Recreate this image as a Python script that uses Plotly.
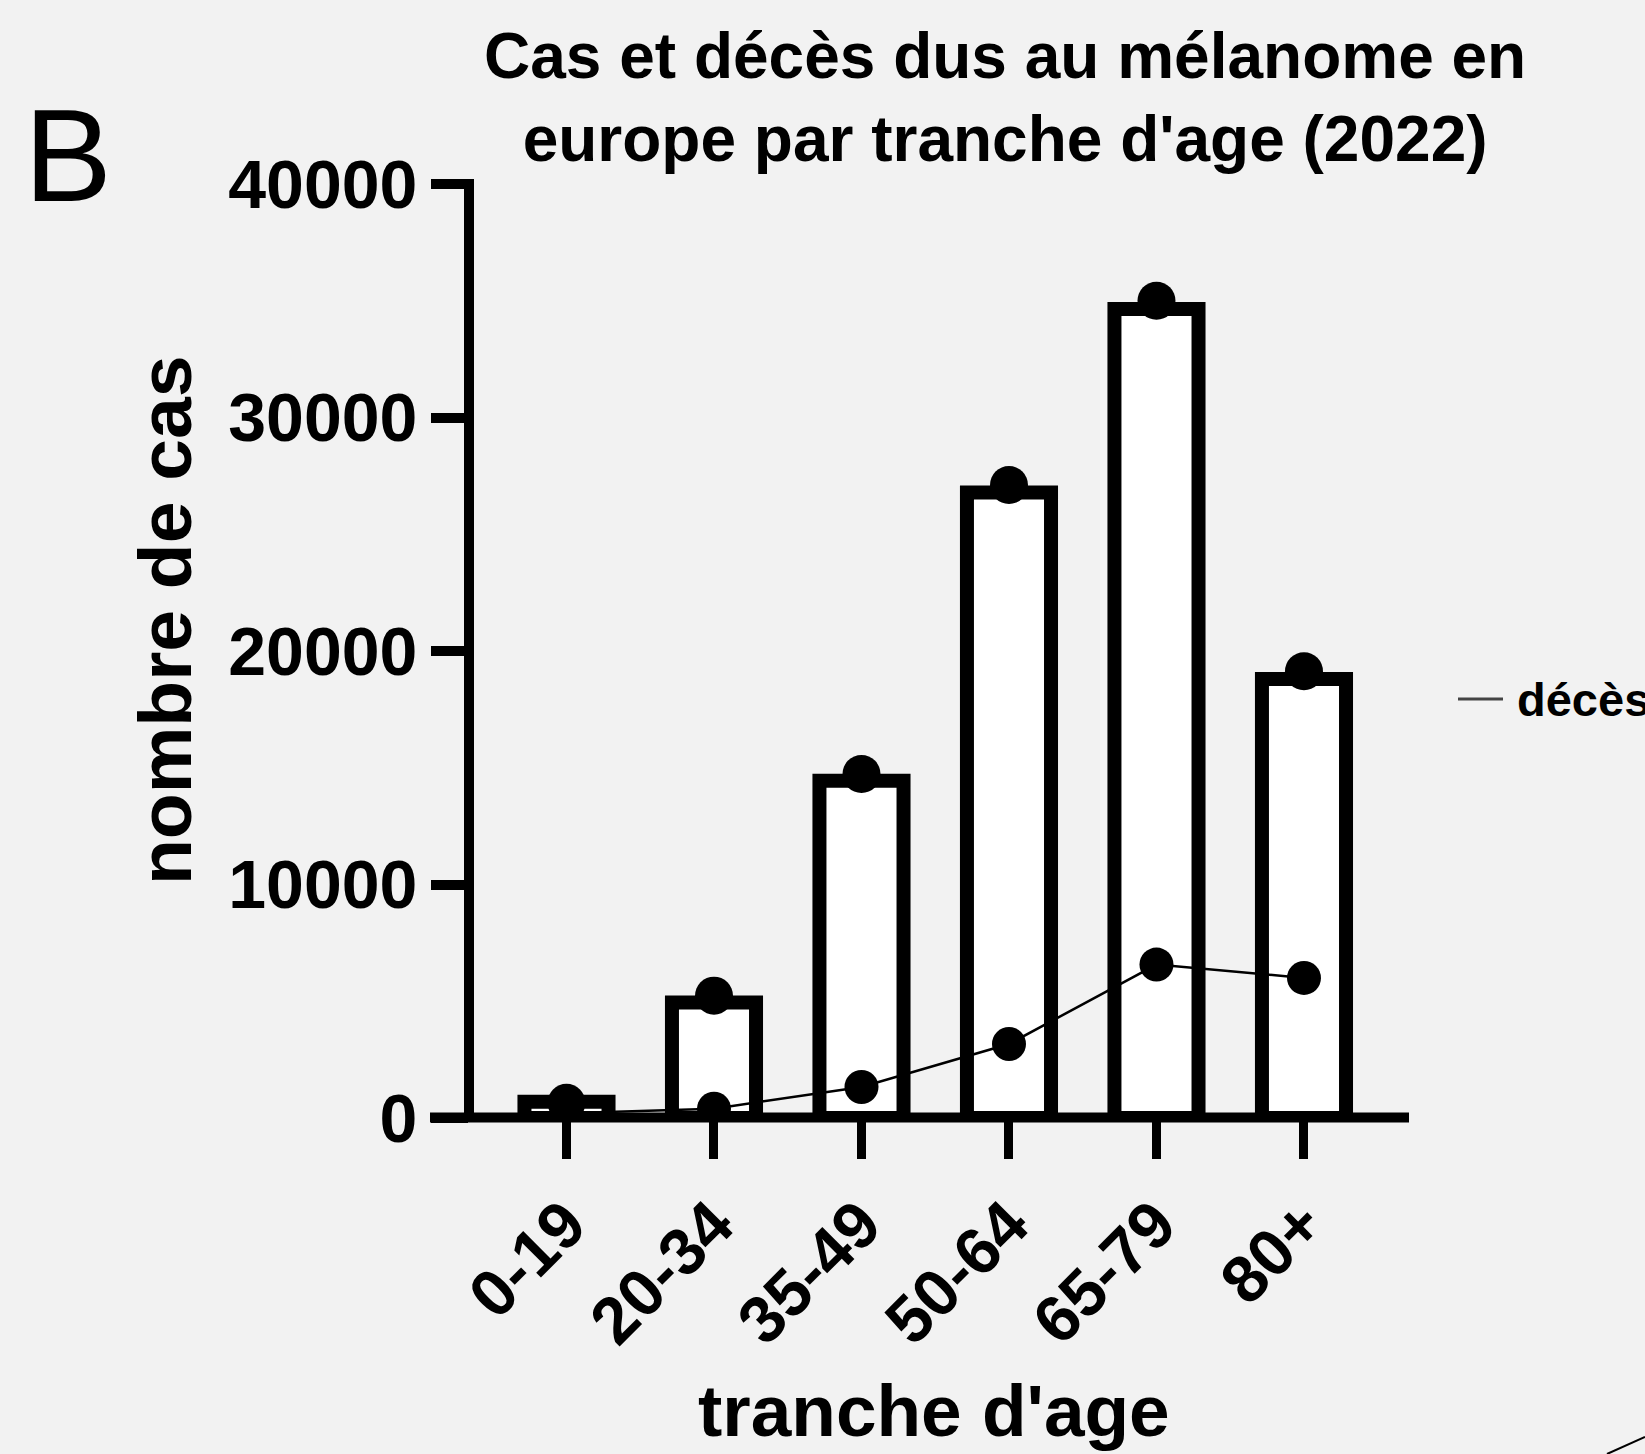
import plotly.graph_objects as go

# ---- data ----
categories = ["0-19", "20-34", "35-49", "50-64", "65-79", "80+"]
bar_cases = [700, 4950, 14440, 26790, 34650, 18800]
dot_cases = [650, 5240, 14730, 27110, 35000, 19130]
deaths = [200, 400, 1330, 3170, 6570, 6000]
y_ticks = [0, 10000, 20000, 30000, 40000]
y_tick_labels = ["0", "10000", "20000", "30000", "40000"]

W, H = 1645, 1454
L, R, T, B = 469, 1409, 184, 1118  # plot area in pixels
def px(x):
    return (x - L) / (R - L)
def py(y):
    return (B - y) / (B - T)

FONT = "Liberation Sans"
BG = "#f2f2f2"

fig = go.Figure()
fig.add_trace(go.Bar(
    x=categories, y=bar_cases, width=0.57,
    marker=dict(color="white", line=dict(color="black", width=14)),
    showlegend=False, hoverinfo="skip",
))
fig.add_trace(go.Scatter(
    x=categories, y=dot_cases, mode="markers",
    marker=dict(color="black", size=38),
    showlegend=False, name="cas",
))
fig.add_trace(go.Scatter(
    x=categories, y=deaths, mode="lines+markers",
    line=dict(color="black", width=2.5),
    marker=dict(color="black", size=34),
    showlegend=False, name="décès",
))

fig.update_layout(
    width=W, height=H,
    margin=dict(l=L, r=W - R, t=T, b=H - B, pad=0),
    paper_bgcolor=BG, plot_bgcolor=BG,
    font=dict(family=FONT, color="black"),
    xaxis=dict(
        type="category", range=[-0.661, 5.712],
        showgrid=False, zeroline=False, showline=False,
        ticks="outside", ticklen=40, tickwidth=9, tickcolor="black",
        tickangle=-45,
        tickfont=dict(family=FONT, size=66, color="black", weight="bold"),
    ),
    yaxis=dict(
        range=[0, 40000], tickvals=y_ticks, ticktext=y_tick_labels,
        showgrid=False, zeroline=False, showline=False,
        ticks="outside", ticklen=37, tickwidth=10, tickcolor="black",
        tickfont=dict(family=FONT, size=68, color="black", weight="bold"),
    ),
    shapes=[
        # y axis line
        dict(type="line", xref="paper", yref="paper", x0=0, x1=0, y0=py(1122), y1=py(179),
             line=dict(color="black", width=10), layer="above"),
        # x axis line
        dict(type="line", xref="paper", yref="paper", x0=px(430), x1=1.0, y0=py(1117.5), y1=py(1117.5),
             line=dict(color="black", width=10), layer="above"),
        # legend sample line
        dict(type="line", xref="paper", yref="paper",
             x0=px(1458), x1=px(1503), y0=py(699), y1=py(699),
             line=dict(color="#444444", width=3)),
        # stray curve in the corner of the reference
        dict(type="path", xref="paper", yref="paper",
             path=f"M {px(1607)},{py(1454)} Q {px(1625)},{py(1446)} {px(1645)},{py(1437)}",
             line=dict(color="black", width=2)),
    ],
    annotations=[
        dict(text="Cas et décès dus au mélanome en<br>europe par tranche d'age (2022)",
             xref="paper", yref="paper", x=px(1005), y=py(98),
             xanchor="center", yanchor="middle", showarrow=False,
             font=dict(family=FONT, size=64, color="black", weight="bold")),
        dict(text="B", xref="paper", yref="paper", x=px(68), y=py(155),
             xanchor="center", yanchor="middle", showarrow=False,
             font=dict(family=FONT, size=132, color="black")),
        dict(text="nombre de cas", xref="paper", yref="paper", x=px(165), y=py(621),
             xanchor="center", yanchor="middle", textangle=-90, showarrow=False,
             font=dict(family=FONT, size=75, color="black", weight="bold")),
        dict(text="tranche d'age", xref="paper", yref="paper", x=px(934), y=py(1410),
             xanchor="center", yanchor="middle", showarrow=False,
             font=dict(family=FONT, size=73, color="black", weight="bold")),
        dict(text="décès", xref="paper", yref="paper", x=px(1515), y=py(699),
             xanchor="left", yanchor="middle", showarrow=False,
             font=dict(family=FONT, size=47, color="black", weight="bold")),
    ],
)

fig.write_html(
    "out.html",
    config={"displayModeBar": False},
    post_script="document.body.style.margin='0';document.body.style.background='#f2f2f2';document.body.style.overflow='hidden';",
)
